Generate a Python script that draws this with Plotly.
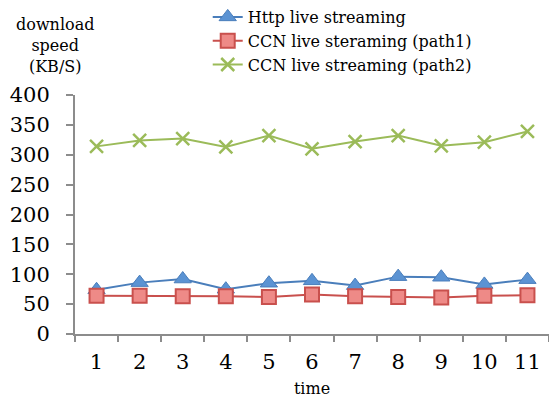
import plotly.graph_objects as go

# Time slots and measured download speeds (KB/S)
time_slots = [1, 2, 3, 4, 5, 6, 7, 8, 9, 10, 11]
http_live = [74, 86, 92, 75, 85, 89, 81, 96, 95, 83, 91]
ccn_path1 = [64, 64, 63, 63, 62, 66, 63, 62, 61, 64, 65]
ccn_path2 = [314, 324, 327, 313, 332, 310, 322, 332, 315, 321, 339]

y_ticks = [0, 50, 100, 150, 200, 250, 300, 350, 400]
serif = "DejaVu Serif"

fig = go.Figure()

fig.add_trace(go.Scatter(
    x=time_slots, y=http_live, mode="lines+markers",
    name="Http live streaming",
    line=dict(color="#4A7EBB", width=2),
    marker=dict(symbol="triangle-up", size=15, color="#5B93D3",
                line=dict(color="#4A7EBB", width=1)),
))
fig.add_trace(go.Scatter(
    x=time_slots, y=ccn_path1, mode="lines+markers",
    name="CCN live steraming (path1)",
    line=dict(color="#C9504D", width=2),
    marker=dict(symbol="square", size=14, color="#EE8A87",
                line=dict(color="#C9504D", width=2)),
))
fig.add_trace(go.Scatter(
    x=time_slots, y=ccn_path2, mode="lines+markers",
    name="CCN live streaming (path2)",
    line=dict(color="#9BBB59", width=2),
    marker=dict(symbol="x-thin", size=13, color="#9BBB59",
                line=dict(color="#9BBB59", width=2.5)),
))

fig.update_layout(
    width=549, height=403,
    margin=dict(l=75, r=0, t=95, b=69),
    paper_bgcolor="white", plot_bgcolor="white",
    font=dict(family=serif, color="black"),
    showlegend=True,
    legend=dict(
        x=0.28, y=1.0, xref="paper", yref="container",
        xanchor="left", yanchor="top",
        font=dict(family=serif, size=16),
        bgcolor="rgba(0,0,0,0)", tracegroupgap=0,
        itemwidth=30,
    ),
    annotations=[
        dict(text="download<br>speed<br>(KB/S)", xref="paper", yref="paper",
             x=-0.043, y=1.345, showarrow=False,
             font=dict(family=serif, size=16),
             xanchor="center", yanchor="top", align="center"),
    ],
)

fig.update_xaxes(
    range=[0.5, 11.5],
    tickmode="array", tickvals=time_slots,
    ticks="", showgrid=False, zeroline=False,
    showline=True, linecolor="#8C8C8C", linewidth=2,
    tickfont=dict(family=serif, size=21),
    ticklabelstandoff=8,
    minor=dict(tickmode="array",
               tickvals=[t - 0.5 for t in time_slots] + [11.5],
               ticks="outside", ticklen=6, tickcolor="#8C8C8C",
               tickwidth=2, showgrid=False),
    title=dict(text="time", font=dict(family=serif, size=16), standoff=10),
)
fig.update_yaxes(
    range=[0, 400],
    tickmode="array", tickvals=y_ticks,
    ticks="outside", ticklen=7, tickcolor="#8C8C8C", tickwidth=2,
    ticklabelstandoff=12,
    showgrid=False, zeroline=False,
    showline=True, linecolor="#8C8C8C", linewidth=2,
    tickfont=dict(family=serif, size=21),
)

fig.write_html("out.html")
